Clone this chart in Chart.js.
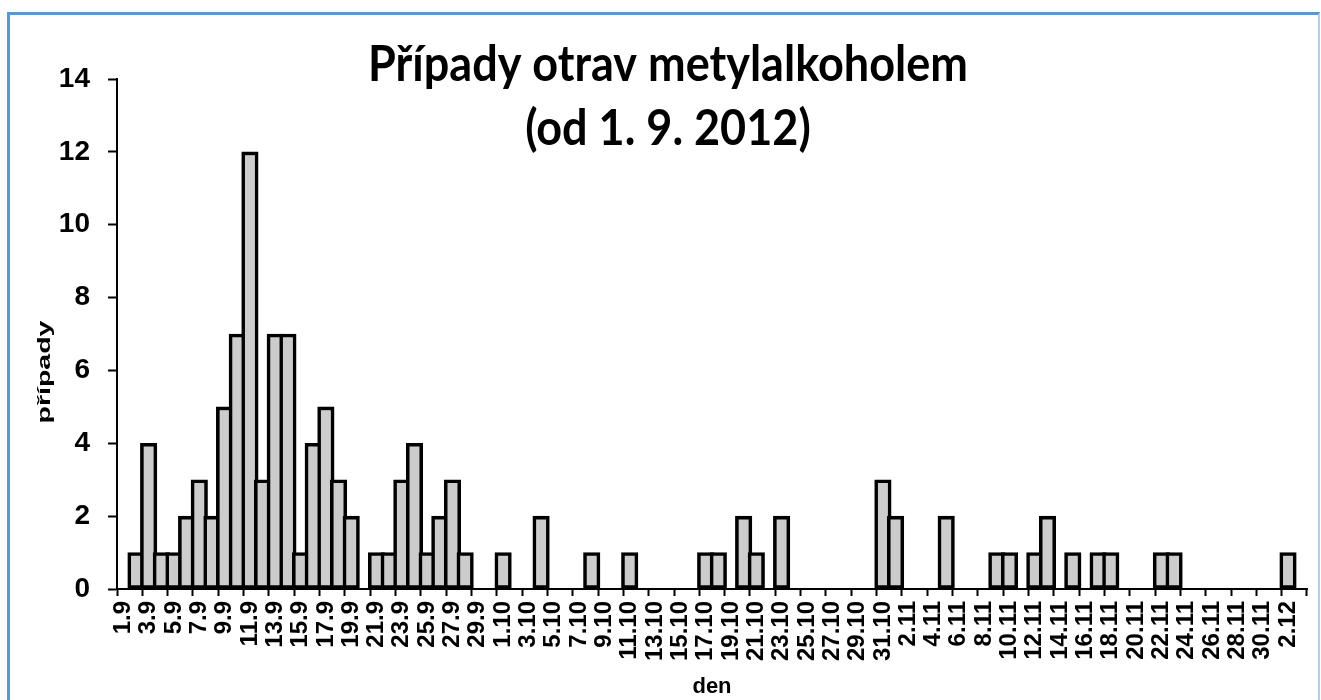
<!DOCTYPE html>
<html>
<head>
<meta charset="utf-8">
<title>Případy otrav metylalkoholem</title>
<script src="https://cdn.jsdelivr.net/npm/chart.js@4.4.0/dist/chart.umd.min.js"></script>
<style>
  html, body { margin: 0; padding: 0; background: #fff; }
  #wrap { position: relative; width: 1321px; height: 700px; overflow: hidden; }
  #frame {
    position: absolute; left: 7px; top: 12px; width: 1308px; height: 720px;
    border: 3px solid #6096ca; border-right: 2px solid #b3cfea;
  }
  #chart { position: absolute; left: 0; top: 0; }
</style>
</head>
<body>
<div id="wrap">
  <div id="frame"></div>
  <canvas id="chart" width="1321" height="700"></canvas>
</div>
<script>
// ---- data ----
const titleLines = ['Případy otrav metylalkoholem', '(od 1. 9. 2012)'];
const yTitle = 'případy';
const xTitle = 'den';

// month number and how many days of it are on the axis (1.9 – 3.12)
const months = [[9, 30], [10, 31], [11, 30], [12, 3]];
const days = [];
months.forEach(([m, n]) => { for (let d = 1; d <= n; d++) days.push(d + '.' + m); });

// cases per day
const cases = [
  0, 1, 4, 1, 1, 2, 3, 2, 5, 7,     // 1.9 - 10.9
  12, 3, 7, 7, 1, 4, 5, 3, 2, 0,    // 11.9 - 20.9
  1, 1, 3, 4, 1, 2, 3, 1, 0, 0,     // 21.9 - 30.9
  1, 0, 0, 2, 0, 0, 0, 1, 0, 0,     // 1.10 - 10.10
  1, 0, 0, 0, 0, 0, 1, 1, 0, 2,     // 11.10 - 20.10
  1, 0, 2, 0, 0, 0, 0, 0, 0, 0,     // 21.10 - 30.10
  3,                                // 31.10
  2, 0, 0, 0, 2, 0, 0, 0, 1, 1,     // 1.11 - 10.11
  0, 1, 2, 0, 1, 0, 1, 1, 0, 0,     // 11.11 - 20.11
  0, 1, 1, 0, 0, 0, 0, 0, 0, 0,     // 21.11 - 30.11
  0, 1, 0                           // 1.12 - 3.12
];

const yMin = 0, yMax = 14, yStep = 2;

// ---- title + y axis title drawn over the plot like in the original ----
const titlePlugin = {
  id: 'oldTitle',
  afterDraw(chart) {
    const c = chart.ctx;
    c.save();
    c.fillStyle = '#000';
    c.textAlign = 'center';
    c.textBaseline = 'middle';
    c.font = 'bold 45px Lato, "Open Sans", sans-serif';
    c.save();
    c.translate(668, 0);
    c.scale(1, 1.1);
    c.fillText(titleLines[0], 0, 65 / 1.1);
    c.fillText(titleLines[1], 0, 129 / 1.1);
    c.restore();

    // y title, stretched along its length like the source image
    c.translate(45, 372);
    c.rotate(-Math.PI / 2);
    c.scale(1.5, 1);
    c.font = 'bold 19px "Liberation Sans", Arial, sans-serif';
    c.fillText(yTitle, 0, 0);
    c.restore();
  }
};

const tickFont = { family: '"Liberation Sans", Arial, sans-serif', weight: 'bold' };

new Chart(document.getElementById('chart'), {
  type: 'bar',
  data: {
    labels: days,
    datasets: [{
      data: cases,
      backgroundColor: '#cccccc',
      borderColor: '#000000',
      borderWidth: 3.6,
      borderSkipped: false,
      barThickness: 16.5
    }]
  },
  options: {
    responsive: false,
    animation: false,
    events: [],
    layout: { padding: { left: 30, right: 14, top: 79, bottom: 0 } },
    plugins: { legend: { display: false }, tooltip: { enabled: false }, title: { display: false } },
    scales: {
      x: {
        offset: true,
        afterFit(axis) {
          axis.height = 111;
          axis.paddingLeft = 0;
          axis.paddingRight = 0;
        },
        grid: {
          offset: true,
          drawOnChartArea: false,
          drawTicks: true,
          tickLength: 7,
          tickWidth: 2,
          tickColor: (ctx) => (ctx.index === undefined || ctx.index % 2 === 0) ? '#000' : 'rgba(0,0,0,0)'
        },
        border: { display: true, color: '#000', width: 2 },
        ticks: {
          autoSkip: false,
          minRotation: 90,
          maxRotation: 90,
          padding: 5,
          color: '#000',
          font: Object.assign({ size: 24 }, tickFont),
          callback(value, index) { return index % 2 === 0 ? days[index] : ''; }
        },
        title: {
          display: true,
          text: xTitle,
          color: '#000',
          font: Object.assign({ size: 22 }, tickFont),
          padding: { top: 0, bottom: 0 }
        }
      },
      y: {
        min: yMin,
        max: yMax,
        afterFit(axis) { axis.width = 87; },
        grid: {
          drawOnChartArea: false,
          drawTicks: true,
          tickLength: 9,
          tickWidth: 2,
          tickColor: '#000'
        },
        border: { display: true, color: '#000', width: 2 },
        ticks: {
          stepSize: yStep,
          padding: 18,
          color: '#000',
          font: Object.assign({ size: 28 }, tickFont)
        }
      }
    }
  },
  plugins: [titlePlugin]
});
</script>
</body>
</html>
